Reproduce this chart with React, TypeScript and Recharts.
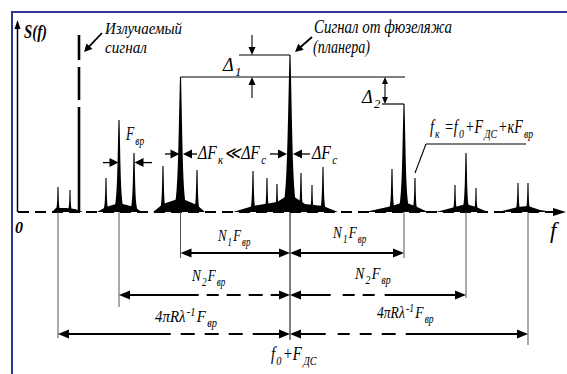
import React, { useLayoutEffect, useRef, useState } from 'react';
import { ComposedChart, Area, XAxis, YAxis, ReferenceLine, ReferenceDot } from 'recharts';

const FONT = "'Liberation Serif', 'DejaVu Serif', serif";

// ---------- data (frequency in relative units, amplitude in relative units) ----------
const lineFreqs = [8, 10.4, 17.6, 20.2, 23.2, 29, 32.5, 35.8, 47, 49.8, 51.8, 54.4, 56.6, 58.8, 61, 74.8, 77.2, 79.4, 87.4, 89.6, 91.6, 100, 102];
const lineAmps = [12.5, 11, 17, 46, 29.5, 23, 67.5, 21, 20.5, 17, 14, 78.5, 19.5, 13.5, 22.5, 21.5, 54, 17, 13.5, 29.5, 12, 14.5, 14.5];

const emissionFreq = 12.2;
const emissionAmp = 88.5;

const pedFreqs = [6.8, 7.6, 9.6, 11.4, 13, 15.8, 17.6, 20.2, 23.2, 24.8, 27, 29, 32.5, 35.8, 37.4, 43, 47, 51.8, 54.4, 57.4, 61, 64, 69.4, 74.8, 77.2, 79.4, 82, 83.6, 87.4, 89.6, 91.6, 94, 96, 100, 102, 104.4, 107];
const pedAmps = [0, 2, 2, 1.5, 0, 0, 2.5, 4.5, 2.5, 0, 0, 4, 7, 3.5, 0, 0, 3, 5, 9, 4, 3, 0, 0, 3, 5, 3, 0, 0, 2.5, 4, 2.5, 0, 0, 2.5, 3, 1, 0];

const groupFreqs = [8, 20.2, 32.5, 54.4, 77.2, 89.6, 102];
const groupDrop = [-63, -47.5, -23, -64, -23, -43, -66.5];
const centerFreq = 54.4;

const rowLevels = [-20.5, -41.5, -61];
const rowLeftEnds = [32.5, 20.2, 8];
const rowRightEnds = [77.2, 89.6, 102];

const levelAmps = [78.5, 67.5, 54];
const levelFrom = [44.2, 32.5, 72.8];
const levelTo = [54.4, 77.4, 77.2];

type Part = [string, ('sub' | 'sup')?];
type Label = { f: number; a: number; parts: Part[]; size: number; tl?: number; bold?: boolean };

const labels: Label[] = [
  { f: 1.2, a: 87, parts: [['S(f)']], size: 18, tl: 23, bold: true },
  { f: 17.4, a: 89, parts: [['Излучаемый']], size: 16.5, tl: 77 },
  { f: 17.4, a: 79.75, parts: [['сигнал']], size: 16.5, tl: 42 },
  { f: 59.2, a: 89.5, parts: [['Сигнал от фюзеляжа']], size: 19, tl: 138 },
  { f: 59, a: 79.5, parts: [['(планера)']], size: 19, tl: 57 },
  { f: 41, a: 70.5, parts: [['Δ'], ['1', 'sub']], size: 19, tl: 17 },
  { f: 68.8, a: 54.5, parts: [['Δ'], ['2', 'sub']], size: 19, tl: 17 },
  { f: 21.6, a: 36, parts: [['F'], ['вр', 'sub']], size: 18, tl: 17 },
  { f: 36, a: 26.5, parts: [['ΔF'], ['к', 'sub'], ['≪ΔF'], ['c', 'sub']], size: 18, tl: 64 },
  { f: 58.8, a: 26.5, parts: [['ΔF'], ['c', 'sub']], size: 18, tl: 24 },
  { f: 82.4, a: 39.5, parts: [['f'], ['к', 'sub'], [' =f'], ['0', 'sub'], ['+F'], ['ДС', 'sub'], ['+кF'], ['вр', 'sub']], size: 18, tl: 95 },
  { f: -0.6, a: -10.5, parts: [['0']], size: 16, bold: true },
  { f: 106.4, a: -13, parts: [['f']], size: 23 },
  { f: 40, a: -14.5, parts: [['N'], ['1', 'sub'], ['F'], ['вр', 'sub']], size: 17, tl: 29 },
  { f: 63, a: -13, parts: [['N'], ['1', 'sub'], ['F'], ['вр', 'sub']], size: 17, tl: 30 },
  { f: 34.8, a: -34.5, parts: [['N'], ['2', 'sub'], ['F'], ['вр', 'sub']], size: 17, tl: 30 },
  { f: 67.4, a: -33.5, parts: [['N'], ['2', 'sub'], ['F'], ['вр', 'sub']], size: 17, tl: 32 },
  { f: 27.4, a: -55, parts: [['4πRλ'], ['-1', 'sup'], ['F'], ['вр', 'sub']], size: 17, tl: 58 },
  { f: 71.8, a: -53, parts: [['4πRλ'], ['-1', 'sup'], ['F'], ['вр', 'sub']], size: 17, tl: 53 },
  { f: 50.6, a: -74, parts: [['f'], ['0', 'sub'], ['+F'], ['ДС', 'sub']], size: 18, tl: 42 },
];

// ---------- shapes ----------
type ArrowOpts = { start?: boolean; end?: boolean; width?: number; dash?: string; len?: number; half?: number; color?: string };

function arrowShape(o: ArrowOpts) {
  return (p: any) => {
    const { x1, y1, x2, y2 } = p;
    if ([x1, y1, x2, y2].some((v) => v == null || Number.isNaN(v))) return <g />;
    const dx = x2 - x1;
    const dy = y2 - y1;
    const L = Math.hypot(dx, dy) || 1;
    const ux = dx / L;
    const uy = dy / L;
    const len = o.len ?? 10;
    const half = o.half ?? 4;
    const color = o.color ?? '#000';
    const head = (x: number, y: number, sx: number, sy: number) => {
      const bx = x - sx * len;
      const by = y - sy * len;
      return `${x},${y} ${bx - sy * half},${by + sx * half} ${bx + sy * half},${by - sx * half}`;
    };
    const sx1 = o.start ? x1 + ux * len * 0.7 : x1;
    const sy1 = o.start ? y1 + uy * len * 0.7 : y1;
    const sx2 = o.end ? x2 - ux * len * 0.7 : x2;
    const sy2 = o.end ? y2 - uy * len * 0.7 : y2;
    return (
      <g>
        <line x1={sx1} y1={sy1} x2={sx2} y2={sy2} stroke={color} strokeWidth={o.width ?? 1.2} strokeDasharray={o.dash} />
        {o.end && <polygon points={head(x2, y2, ux, uy)} fill={color} />}
        {o.start && <polygon points={head(x1, y1, -ux, -uy)} fill={color} />}
      </g>
    );
  };
}

const spikeShape = (p: any) => {
  const { x1, y1, y2 } = p;
  if ([x1, y1, y2].some((v) => v == null || Number.isNaN(v))) return <g />;
  const h = y1 - y2;
  const x = x1;
  const hw = 2.5 + h * 0.045;
  const bw = 0.4 + h * 0.015;
  const d = `M${x - hw},${y1} C${x - bw},${y1 - 1} ${x - bw},${y1 - h * 0.4} ${x - 0.55},${y2} L${x + 0.55},${y2} C${x + bw},${y1 - h * 0.4} ${x + bw},${y1 - 1} ${x + hw},${y1} Z`;
  return <path d={d} fill="#000" />;
};

function FitText({ x, y, l }: { x: number; y: number; l: Label }) {
  const ref = useRef<SVGTextElement>(null);
  const [sx, setSx] = useState(1);
  useLayoutEffect(() => {
    if (ref.current && l.tl) {
      const w = ref.current.getComputedTextLength();
      if (w > 0) setSx(l.tl / w);
    }
  }, [l.tl]);
  let cur = 0;
  if (x == null || y == null || Number.isNaN(x) || Number.isNaN(y)) return <g />;
  return (
    <g transform={`translate(${x},${y}) scale(${sx},1)`}>
      <text
        ref={ref}
        x={0}
        y={0}
        fontFamily={FONT}
        fontStyle="italic"
        fontWeight={l.bold ? 'bold' : 'normal'}
        fontSize={l.size}
        fill="#000"
      >
        {l.parts.map(([t, k], i) => {
          const target = k === 'sub' ? l.size * 0.28 : k === 'sup' ? -l.size * 0.38 : 0;
          const dy = target - cur;
          cur = target;
          return (
            <tspan key={i} dy={dy} dx={i > 0 ? 1.5 : 0} fontSize={k ? l.size * 0.7 : l.size}>
              {t}
            </tspan>
          );
        })}
      </text>
    </g>
  );
}

const textShape = (l: Label) => (p: any) => <FitText x={p.cx} y={p.cy} l={l} />;

const seg = (x1: number, y1: number, x2: number, y2: number) => [
  { x: x1, y: y1 },
  { x: x2, y: y2 },
];

// dash patterns for the interval arrows (left, right) per row
const rowDashLeft = [undefined, '72 8 12 8 14 8 14 8 400', '105 10 14 10 14 10 14 10 400'];
const rowDashRight = [undefined, '33 12 12 8 12 10 400', '28 12 12 10 12 10 14 10 400'];

export default function App() {
  const data = pedFreqs.map((f, i) => ({ f, a: pedAmps[i] }));
  return (
    <div style={{ position: 'absolute', left: 0, top: 0, width: 567, height: 374, background: '#fff', overflow: 'hidden' }}>
      <div
        style={{
          position: 'absolute',
          left: 11,
          top: 11,
          right: 0,
          bottom: 0,
          borderLeft: '2.5px solid #33349a',
          borderTop: '2.5px solid #33349a',
        }}
      />
      <div style={{ position: 'absolute', left: 0, top: 0 }}>
        <ComposedChart width={567} height={374} data={data} margin={{ top: 20, right: 4, bottom: 12, left: 18 }}>
          <XAxis type="number" dataKey="f" domain={[0, 109]} hide allowDataOverflow />
          <YAxis type="number" domain={[-75, 96]} hide allowDataOverflow />

          {/* pedestals */}
          <Area type="linear" dataKey="a" stroke="none" fill="#000" fillOpacity={1} dot={false} activeDot={false} isAnimationActive={false} />

          {/* baseline (frequency axis) */}
          <ReferenceLine ifOverflow="visible" segment={seg(0, 0, 109.6, 0)} shape={arrowShape({ end: true, width: 2, dash: '11 6', len: 13, half: 4 })} />
          {/* amplitude axis */}
          <ReferenceLine ifOverflow="visible" segment={seg(-0.1, 0, -0.1, 96)} shape={arrowShape({ end: true, width: 1.5, len: 9, half: 3 })} />

          {/* spectral lines */}
          {lineFreqs.map((f, i) => (
            <ReferenceLine key={`s${i}`} ifOverflow="visible" segment={seg(f, 0, f, lineAmps[i])} shape={spikeShape} />
          ))}

          {/* emitted signal */}
          <ReferenceLine
            ifOverflow="visible"
            segment={seg(emissionFreq, emissionAmp, emissionFreq, 0)}
            shape={arrowShape({ width: 2.6, dash: '25 7 33 7 400' })}
          />

          {/* level lines */}
          {levelAmps.map((a, i) => (
            <ReferenceLine key={`lv${i}`} ifOverflow="visible" segment={seg(levelFrom[i], a, levelTo[i], a)} shape={arrowShape({ width: 1.2 })} />
          ))}

          {/* Δ1 arrows */}
          <ReferenceLine ifOverflow="visible" segment={seg(46.8, 88.5, 46.8, 78.5)} shape={arrowShape({ end: true, width: 1.1, len: 8, half: 3.5 })} />
          <ReferenceLine ifOverflow="visible" segment={seg(46.8, 57, 46.8, 67.5)} shape={arrowShape({ end: true, width: 1.1, len: 8, half: 3.5 })} />
          {/* Δ2 arrow */}
          <ReferenceLine ifOverflow="visible" segment={seg(73.4, 67.5, 73.4, 54)} shape={arrowShape({ start: true, end: true, width: 1.1, len: 7, half: 3 })} />

          {/* F_вр arrows */}
          <ReferenceLine ifOverflow="visible" segment={seg(17, 24.7, 20.1, 24.7)} shape={arrowShape({ end: true, width: 1.3, len: 9, half: 4.5 })} />
          <ReferenceLine ifOverflow="visible" segment={seg(26.8, 24.7, 23.3, 24.7)} shape={arrowShape({ end: true, width: 1.3, len: 9, half: 4.5 })} />
          {/* ΔF_к arrows */}
          <ReferenceLine ifOverflow="visible" segment={seg(29.4, 29, 32.3, 29)} shape={arrowShape({ end: true, width: 1.3, len: 9, half: 4.5 })} />
          <ReferenceLine ifOverflow="visible" segment={seg(35.8, 29, 33.0, 29)} shape={arrowShape({ end: true, width: 1.3, len: 9, half: 4.5 })} />
          {/* ΔF_c arrows */}
          <ReferenceLine ifOverflow="visible" segment={seg(50.4, 29, 53.8, 29)} shape={arrowShape({ end: true, width: 1.3, len: 9, half: 4.5 })} />
          <ReferenceLine ifOverflow="visible" segment={seg(58.4, 29, 55.0, 29)} shape={arrowShape({ end: true, width: 1.3, len: 9, half: 4.5 })} />

          {/* leader arrows */}
          <ReferenceLine ifOverflow="visible" segment={seg(16.8, 89.5, 13.2, 80)} shape={arrowShape({ end: true, width: 1.8, len: 8, half: 4 })} />
          <ReferenceLine ifOverflow="visible" segment={seg(58.8, 87.5, 55.4, 80)} shape={arrowShape({ end: true, width: 1.8, len: 8, half: 4 })} />

          {/* f_к leader */}
          <ReferenceLine ifOverflow="visible" segment={seg(79.4, 19.5, 81.6, 34)} shape={arrowShape({ width: 1.1 })} />
          <ReferenceLine ifOverflow="visible" segment={seg(81.6, 34, 101.6, 34)} shape={arrowShape({ width: 1.1 })} />

          {/* drop lines */}
          {groupFreqs.map((f, i) => (
            <ReferenceLine
              key={`d${i}`}
              ifOverflow="visible"
              segment={seg(f, 0, f, groupDrop[i])}
              shape={arrowShape({ width: 1, color: f === centerFreq ? '#000' : '#555' })}
            />
          ))}

          {/* interval arrows */}
          {rowLevels.map((lv, i) => (
            <ReferenceLine
              key={`rl${i}`}
              ifOverflow="visible"
              segment={seg(rowLeftEnds[i], lv, centerFreq, lv)}
              shape={arrowShape({ start: true, end: true, width: 2, dash: rowDashLeft[i], len: 11, half: 4.5 })}
            />
          ))}
          {rowLevels.map((lv, i) => (
            <ReferenceLine
              key={`rr${i}`}
              ifOverflow="visible"
              segment={seg(centerFreq, lv, rowRightEnds[i], lv)}
              shape={arrowShape({ start: true, end: true, width: 2, dash: rowDashRight[i], len: 11, half: 4.5 })}
            />
          ))}

          {/* text labels */}
          {labels.map((l, i) => (
            <ReferenceDot key={`t${i}`} ifOverflow="visible" x={l.f} y={l.a} r={0} shape={textShape(l)} />
          ))}
        </ComposedChart>
      </div>
    </div>
  );
}
